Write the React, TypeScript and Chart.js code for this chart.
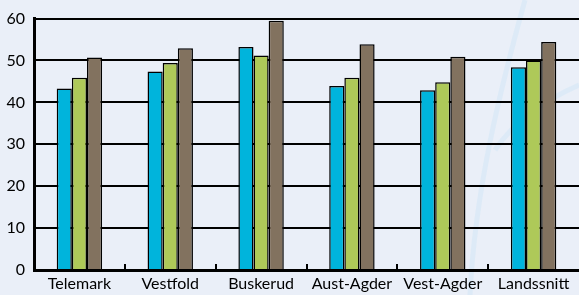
import React, { useEffect, useRef } from "react";
import { Chart, registerables } from "chart.js";

Chart.register(...registerables);

const categories = ["Telemark", "Vestfold", "Buskerud", "Aust-Agder", "Vest-Agder", "Landssnitt"];
const series1 = [43.3, 47.4, 53.2, 43.9, 42.9, 48.4];
const series2 = [45.9, 49.4, 51.2, 45.9, 44.8, 50.0];
const series3 = [50.7, 52.9, 59.5, 53.9, 50.9, 54.4];
const yTicks = [0, 10, 20, 30, 40, 50, 60];

const FONT = "Lato, 'DejaVu Sans', sans-serif";

const bgPlugin = {
  id: "bg",
  beforeDraw(chart: any) {
    const { ctx, width, height } = chart;
    ctx.save();
    ctx.fillStyle = "#eaeff8";
    ctx.fillRect(0, 0, width, height);
    ctx.strokeStyle = "rgba(215,232,247,0.7)";
    ctx.lineWidth = 5;
    ctx.beginPath();
    ctx.moveTo(470, 295);
    ctx.bezierCurveTo(475, 190, 500, 90, 525, 0);
    ctx.stroke();
    ctx.beginPath();
    ctx.moveTo(579, 85);
    ctx.bezierCurveTo(545, 100, 515, 120, 495, 150);
    ctx.stroke();
    ctx.restore();
  },
};

const catTickPlugin = {
  id: "catTicks",
  afterDatasetsDraw(chart: any) {
    const x = chart.scales.x;
    const { ctx } = chart;
    const bottom = chart.chartArea.bottom;
    ctx.save();
    ctx.strokeStyle = "#000";
    ctx.lineWidth = 2;
    for (let i = 1; i < categories.length; i++) {
      const px = (x.getPixelForValue(i - 1) + x.getPixelForValue(i)) / 2;
      ctx.beginPath();
      ctx.moveTo(Math.round(px), bottom - 6);
      ctx.lineTo(Math.round(px), bottom);
      ctx.stroke();
    }
    ctx.restore();
  },
};

export default function App() {
  const ref = useRef<HTMLCanvasElement>(null);
  useEffect(() => {
    document.body.style.margin = "0";
    const chart = new Chart(ref.current!, {
      type: "bar",
      data: {
        labels: categories,
        datasets: [
          { data: series1, backgroundColor: "#00b4dc", borderColor: "#000", borderWidth: 1.5 },
          { data: series2, backgroundColor: "#aec959", borderColor: "#000", borderWidth: 1.5 },
          { data: series3, backgroundColor: "#82725f", borderColor: "#000", borderWidth: 1.5 },
        ],
      },
      options: {
        responsive: false,
        animation: false,
        devicePixelRatio: 1,
        layout: { padding: { top: 16, left: 0, right: 0, bottom: 0 } },
        plugins: { legend: { display: false }, tooltip: { enabled: false } },
        datasets: { bar: { categoryPercentage: 0.5, barPercentage: 1 } },
        scales: {
          x: {
            grid: { display: false, drawTicks: false },
            border: { display: true, color: "#000", width: 3 },
            ticks: { color: "#000", font: { family: FONT, size: 16 }, padding: 4, maxRotation: 0, autoSkip: false },
            afterFit(scale: any) { scale.height = 25; },
          },
          y: {
            min: 0,
            max: 60,
            afterBuildTicks(scale: any) { scale.ticks = yTicks.map((v) => ({ value: v })); },
            grid: { color: "#000", lineWidth: 2, drawTicks: false },
            border: { display: true, color: "#000", width: 3 },
            ticks: { color: "#000", font: { family: FONT, size: 16 }, padding: 9 },
            afterFit(scale: any) { scale.width = 34; },
          },
        },
      },
      plugins: [bgPlugin, catTickPlugin],
    });
    return () => chart.destroy();
  }, []);
  return (
    <div style={{ position: "fixed", left: 0, top: 0, width: 579, height: 295 }}>
      <canvas ref={ref} width={579} height={295} />
    </div>
  );
}
